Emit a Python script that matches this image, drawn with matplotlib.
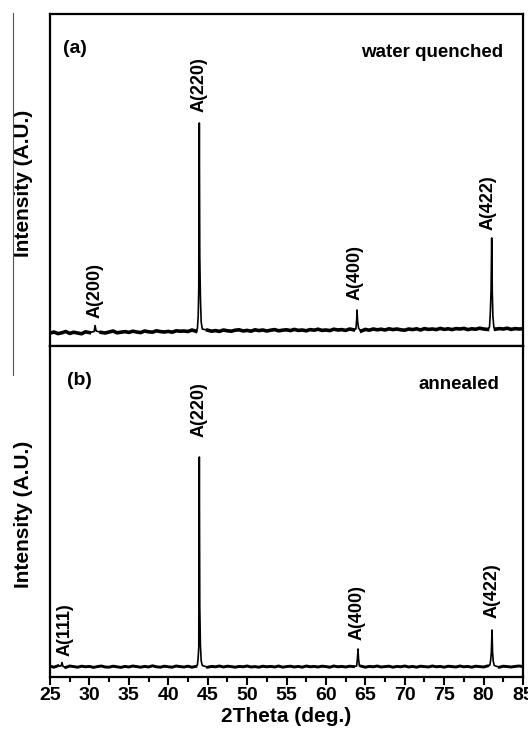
import numpy as np
import matplotlib
matplotlib.use('Agg')
import matplotlib.pyplot as plt
from matplotlib.lines import Line2D

plt.rcParams['font.family'] = ['Liberation Sans', 'DejaVu Sans']
plt.rcParams['font.weight'] = 'bold'

# scan grid, 0.5 deg step
scan_tt = np.arange(25.0, 85.01, 0.5)

# (a) water quenched - baseline counts
base_a = [128, 140, 124, 132, 145, 126, 138, 130, 122, 142,
          134, 128, 146, 136, 130, 140, 150, 132, 138, 144,
          136, 148, 140, 134, 150, 142, 138, 152, 144, 140,
          146, 138, 152, 148, 150, 145, 160, 148, 144, 156,
          158, 148, 154, 146, 160, 152, 148, 158, 162, 150,
          156, 148, 162, 154, 160, 150, 158, 164, 152, 158,
          162, 154, 166, 156, 160, 152, 164, 158, 168, 156,
          160, 154, 168, 160, 164, 156, 170, 162, 160, 150,
          166, 158, 170, 162, 168, 160, 172, 164, 170, 162,
          158, 170, 164, 172, 160, 174, 166, 170, 164, 176,
          166, 172, 164, 174, 170, 176, 164, 172, 168, 178,
          170, 166, 176, 168, 174, 170, 178, 166, 174, 170,
          172]
peak_tt_a = [30.6, 30.72, 30.85,
             43.7, 43.8, 43.87, 43.94, 44.0, 44.08, 44.18, 44.32,
             63.8, 63.9, 63.95, 64.02, 64.15,
             80.75, 80.85, 80.95, 81.03, 81.1, 81.18, 81.3]
peak_int_a = [145, 205, 150,
              175, 300, 580, 2230, 900, 480, 240, 170,
              170, 260, 360, 250, 175,
              190, 320, 560, 1080, 560, 300, 190]

# (b) annealed - baseline counts
base_b = [108, 98, 112, 102, 96, 110, 104, 98, 108, 102,
          106, 96, 104, 110, 100, 98, 108, 102, 96, 106,
          100, 110, 104, 98, 106, 100, 112, 102, 98, 108,
          102, 98, 110, 104, 100, 108, 98, 106, 102, 110,
          98, 106, 102, 110, 100, 108, 104, 98, 106, 102,
          110, 100, 104, 98, 108, 102, 106, 100, 110, 98,
          104, 108, 100, 106, 98, 110, 102, 106, 100, 108,
          104, 98, 110, 102, 106, 100, 108, 104, 100, 108,
          98, 106, 102, 110, 100, 104, 108, 98, 106, 102,
          110, 100, 106, 98, 108, 104, 100, 110, 102, 106,
          98, 108, 104, 100, 110, 102, 106, 98, 108, 104,
          100, 110, 102, 106, 98, 108, 104, 100, 106, 110,
          105]
peak_tt_b = [26.4, 26.52, 26.65,
             43.7, 43.8, 43.87, 43.94, 44.0, 44.08, 44.18, 44.32,
             63.9, 64.0, 64.07, 64.14, 64.25,
             80.8, 80.9, 80.98, 81.07, 81.14, 81.22, 81.35]
peak_int_b = [110, 145, 105,
              120, 200, 300, 2200, 700, 320, 160, 115,
              110, 190, 280, 180, 110,
              120, 170, 240, 470, 250, 160, 115]

labels_a = ['A(200)', 'A(220)', 'A(400)', 'A(422)']
label_tt_a = [30.7, 43.9, 63.7, 80.6]
label_y_a = [280, 2340, 460, 1160]

labels_b = ['A(111)', 'A(220)', 'A(400)', 'A(422)']
label_tt_b = [26.9, 43.9, 63.95, 81.05]
label_y_b = [210, 2400, 370, 590]


def merge(base, ptt, pint):
    base = np.array(base, dtype=float)
    ptt = np.array(ptt)
    keep = np.ones(len(scan_tt), bool)
    for p in ptt:
        keep &= np.abs(scan_tt - p) > 0.2
    x = np.concatenate([scan_tt[keep], ptt])
    y = np.concatenate([base[keep], np.array(pint, dtype=float)])
    o = np.argsort(x)
    # baseline only, broken at the peaks (drawn thicker, like the noise band)
    bx = scan_tt.copy()
    by = np.where(keep, base, np.nan)
    return x[o], y[o], bx, by


fig = plt.figure(figsize=(5.28, 7.38), dpi=100)
ax1 = fig.add_axes([50/528, 1-346/738, 473/528, 332/738])
ax2 = fig.add_axes([50/528, 1-677/738, 473/528, 331/738])

panels = [
    (ax1, base_a, peak_tt_a, peak_int_a, labels_a, label_tt_a, label_y_a,
     '(a)', 'water quenched', 3320, 2.6),
    (ax2, base_b, peak_tt_b, peak_int_b, labels_b, label_tt_b, label_y_b,
     '(b)', 'annealed', 3310, 2.1),
]

for ax, base, ptt, pint, labs, ltt, ly, tag, name, ytop, lw in panels:
    x, y, bx, by = merge(base, ptt, pint)
    ax.plot(x, y, color='black', lw=1.2)
    ax.plot(bx, by, color='black', lw=lw)
    for lab, lx, lyy in zip(labs, ltt, ly):
        ax.text(lx, lyy, lab, rotation=90, ha='center', va='bottom',
                fontsize=13, fontweight='bold')
    ax.set_xlim(25, 85)
    ax.set_ylim(0, ytop)
    ax.set_yticks([])
    ax.set_xticks(np.arange(25, 86, 5))
    ax.set_xticks(np.arange(27.5, 85, 5), minor=True)
    ax.tick_params(axis='x', which='major', direction='out', length=6,
                   width=1.5, pad=1, labelsize=14)
    ax.tick_params(axis='x', which='minor', direction='out', length=3.5,
                   width=1.5)
    for s in ax.spines.values():
        s.set_linewidth(1.6)
    ax.set_ylabel('Intensity (A.U.)', fontsize=15, fontweight='bold')
    ax.yaxis.set_label_coords(-0.036, 0.49)
    ax.text(0.027 if tag == '(a)' else 0.036, 0.895, tag, transform=ax.transAxes,
            fontsize=14, fontweight='bold', va='center', ha='left')
    ax.text(0.958 if tag == '(a)' else 0.951, 0.885, name, transform=ax.transAxes,
            fontsize=13.5, fontweight='bold', va='center', ha='right')

ax1.tick_params(axis='x', labelbottom=False)
ax2.set_xlabel('2Theta (deg.)', fontsize=15, fontweight='bold', labelpad=2)

# thin border line on the left of the upper panel
fig.add_artist(Line2D([12.5/528, 12.5/528], [1-13/738, 1-375/738],
                      color='#555555', lw=0.8))

fig.savefig('out.png', dpi=100)
